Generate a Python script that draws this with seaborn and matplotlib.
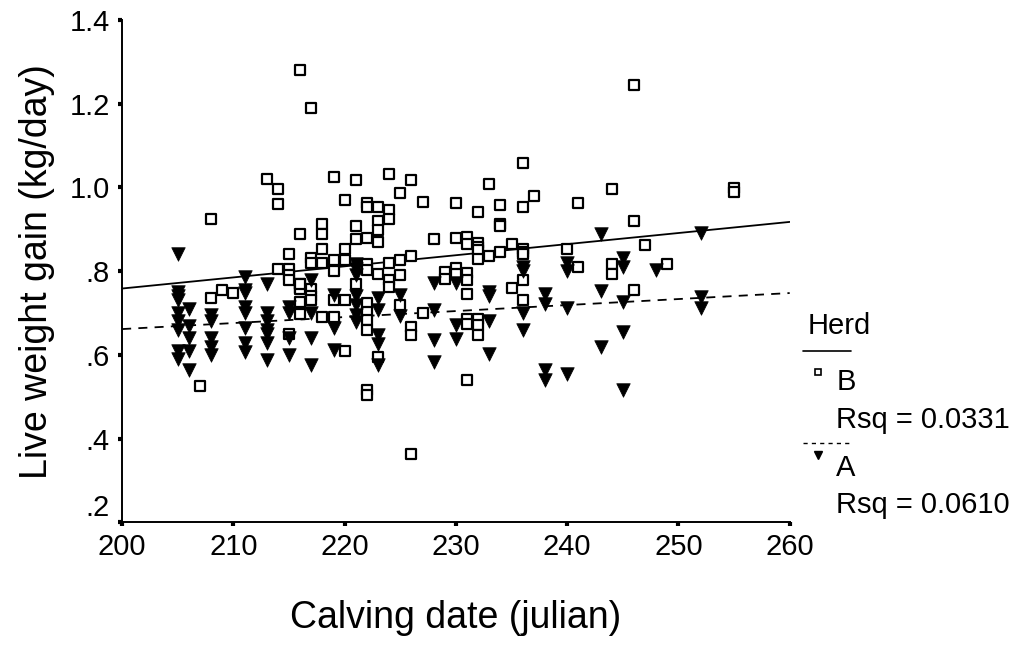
import numpy as np
import pandas as pd
import seaborn as sns
import matplotlib.pyplot as plt
from matplotlib.lines import Line2D

# herd B (open squares)
b_day = [216, 217, 213, 214, 214, 219, 208, 216, 218, 218, 218, 215, 217, 217, 218, 219, 219,
         214, 215, 215, 215, 216, 216, 209, 210, 208, 216, 216, 216, 216, 217, 217, 217, 218,
         219, 219, 215, 207,
         221, 224, 226, 225, 220, 222, 222, 223, 224, 224, 227, 230, 233, 236, 237, 232, 234,
         236, 221, 221, 222, 223, 223, 223, 220, 220, 228, 230, 231, 231, 232, 232, 232, 234,
         234, 235, 236, 236, 236, 240, 222, 222, 223, 221, 224, 225, 226, 225, 224, 224, 232,
         233, 234, 230, 230, 229, 229, 231, 231, 231, 235, 236, 236, 220, 222, 225,
         222, 222, 222, 226, 226, 227, 231, 231, 232, 232, 232, 220, 223, 222, 222, 231, 226,
         246, 244, 255, 255, 241, 246, 247, 241, 244, 244, 249, 246]
b_gain = [1.28, 1.19, 1.021, 0.996, 0.96, 1.025, 0.924, 0.89, 0.912, 0.89, 0.852, 0.84, 0.832,
          0.82, 0.82, 0.826, 0.80, 0.806, 0.806, 0.79, 0.78, 0.77, 0.76, 0.756, 0.748, 0.736,
          0.758, 0.726, 0.697, 0.77, 0.758, 0.74, 0.73, 0.69, 0.69, 0.73, 0.65, 0.525,
          1.017, 1.033, 1.017, 0.987, 0.971, 0.963, 0.954, 0.954, 0.946, 0.924, 0.966, 0.962,
          1.009, 1.059, 0.979, 0.941, 0.957, 0.953, 0.907, 0.878, 0.88, 0.92, 0.898, 0.87,
          0.852, 0.827, 0.878, 0.88, 0.882, 0.864, 0.868, 0.858, 0.85, 0.912, 0.907, 0.866,
          0.852, 0.845, 0.84, 0.852, 0.818, 0.802, 0.794, 0.77, 0.82, 0.827, 0.836, 0.79, 0.778,
          0.762, 0.828, 0.836, 0.845, 0.808, 0.793, 0.797, 0.782, 0.796, 0.78, 0.746, 0.76,
          0.778, 0.73, 0.73, 0.725, 0.72,
          0.702, 0.684, 0.659, 0.667, 0.647, 0.70, 0.686, 0.675, 0.686, 0.672, 0.647, 0.61,
          0.594, 0.515, 0.503, 0.541, 0.362,
          1.244, 0.996, 0.998, 0.99, 0.962, 0.92, 0.862, 0.81, 0.818, 0.794, 0.816, 0.755]

# herd A (filled triangles)
a_day = [205, 205, 205, 205, 205, 205, 205, 205, 205, 206, 206, 206, 206, 206,
         208, 208, 208, 208, 208, 211, 211, 211, 211, 211, 211, 211, 211,
         213, 213, 213, 213, 213, 213, 213, 215, 215, 215, 215, 217, 217, 217, 217,
         219, 219, 219,
         221, 221, 221, 221, 221, 223, 225, 228, 230, 233, 233, 236, 236, 238, 238, 240, 240,
         221, 221, 223, 223, 223, 223, 225, 228, 228, 228, 230, 230, 233, 233, 236, 236,
         238, 238, 240, 240,
         243, 252, 245, 245, 248, 243, 245, 252, 252, 245, 243, 245]
a_gain = [0.84, 0.75, 0.74, 0.73, 0.70, 0.68, 0.66, 0.61, 0.59, 0.71, 0.67, 0.64, 0.61, 0.563,
          0.695, 0.68, 0.64, 0.62, 0.60, 0.786, 0.754, 0.747, 0.714, 0.70, 0.665, 0.628, 0.608,
          0.77, 0.70, 0.68, 0.66, 0.65, 0.628, 0.587, 0.714, 0.70, 0.64, 0.60, 0.778, 0.70,
          0.64, 0.575, 0.742, 0.665, 0.612,
          0.818, 0.806, 0.79, 0.74, 0.72, 0.737, 0.743, 0.772, 0.772, 0.75, 0.74, 0.81, 0.80,
          0.746, 0.722, 0.82, 0.80,
          0.695, 0.679, 0.707, 0.647, 0.627, 0.575, 0.692, 0.707, 0.635, 0.583, 0.671, 0.639,
          0.681, 0.601, 0.699, 0.659, 0.563, 0.539, 0.711, 0.555,
          0.89, 0.892, 0.832, 0.81, 0.802, 0.753, 0.726, 0.738, 0.713, 0.655, 0.62, 0.515]

y_ticks = [0.2, 0.4, 0.6, 0.8, 1.0, 1.2, 1.4]
y_labels = ['.2', '.4', '.6', '.8', '1.0', '1.2', '1.4']
x_ticks = [200, 210, 220, 230, 240, 250, 260]
rsq_labels = ['Rsq = 0.0331', 'Rsq = 0.0610']

df_b = pd.DataFrame({'day': b_day, 'gain': b_gain})
df_a = pd.DataFrame({'day': a_day, 'gain': a_gain})

sns.set_style('white')
plt.rcParams['font.family'] = ['Liberation Sans', 'DejaVu Sans']
plt.rcParams['text.color'] = 'black'
plt.rcParams['axes.labelcolor'] = 'black'
plt.rcParams['xtick.color'] = 'black'
plt.rcParams['ytick.color'] = 'black'

fig = plt.figure(figsize=(10.35, 6.48), dpi=100)
ax = fig.add_axes([0.118, 0.194, 0.645, 0.775])
ax.set_xlim(200, 260)
ax.set_ylim(0.2, 1.4)

sns.scatterplot(data=df_b, x='day', y='gain', marker='s', s=45, facecolor='white',
                edgecolor='black', linewidth=1.6, ax=ax, zorder=3)
sns.scatterplot(data=df_a, x='day', y='gain', marker='v', s=95, color='black',
                edgecolor='black', linewidth=0.5, ax=ax, zorder=3)
sns.regplot(data=df_b, x='day', y='gain', scatter=False, ci=None, truncate=False, ax=ax,
            line_kws={'color': 'black', 'lw': 1.3})
sns.regplot(data=df_a, x='day', y='gain', scatter=False, ci=None, truncate=False, ax=ax,
            line_kws={'color': 'black', 'lw': 1.3, 'ls': (0, (5, 4))})
ax.set_xlim(200, 260)

ax.set_xticks(x_ticks)
ax.set_yticks(y_ticks)
ax.set_yticklabels(y_labels)
ax.get_yticklabels()[0].set_verticalalignment('bottom')
ax.tick_params(axis='both', direction='out', length=3, width=3, labelsize=21,
               color='black', bottom=True, left=True)
ax.tick_params(axis='y', pad=6)
ax.tick_params(axis='x', pad=5)
for side in ['top', 'right']:
    ax.spines[side].set_visible(False)
for side in ['left', 'bottom']:
    ax.spines[side].set_color('black')
    ax.spines[side].set_linewidth(1.4)
ax.set_xlabel('Calving date (julian)', fontsize=27, labelpad=28)
ax.set_ylabel('Live weight gain (kg/day)', fontsize=27, labelpad=10)

# legend, SPSS style
fig.text(0.780, 0.497, 'Herd', fontsize=21, va='center')
fig.add_artist(Line2D([0.776, 0.822], [0.459, 0.459], color='black', lw=1.2))
fig.add_artist(Line2D([0.790], [0.426], marker='s', ms=4.5, mfc='white', mec='black', mew=1.2))
fig.text(0.808, 0.410, 'B', fontsize=21, va='center')
fig.text(0.808, 0.352, rsq_labels[0], fontsize=21, va='center')
fig.add_artist(Line2D([0.776, 0.822], [0.316, 0.316], color='black', lw=1.0, ls=(0, (3, 3))))
fig.add_artist(Line2D([0.790], [0.298], marker='v', ms=6, color='black'))
fig.text(0.808, 0.278, 'A', fontsize=21, va='center')
fig.text(0.808, 0.220, rsq_labels[1], fontsize=21, va='center')

fig.savefig('out.png', dpi=100)
